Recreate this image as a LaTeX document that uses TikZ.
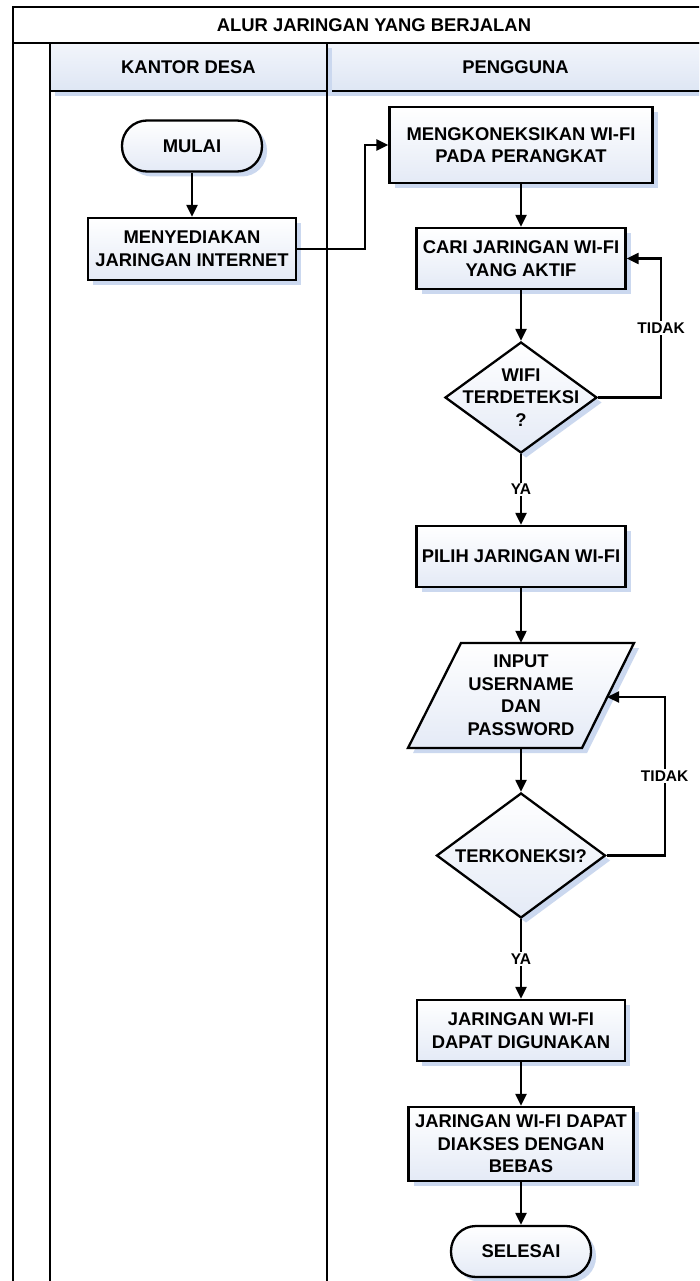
\documentclass[tikz,border=0pt]{standalone}
\usepackage{fontspec}
\setmainfont{Liberation Sans}
\usetikzlibrary{arrows.meta,shapes.geometric,shadows,calc}
\definecolor{shcol}{RGB}{203,216,239}
\definecolor{fillb}{RGB}{228,234,246}
\definecolor{hdrt}{RGB}{242,245,251}
\definecolor{hdrb}{RGB}{222,230,244}
\begin{document}
\begin{tikzpicture}[x=1pt,y=-1pt,
  font=\fontsize{18.4}{22.5}\selectfont\bfseries,
  base/.style={draw, line width=2.3pt, align=center, inner sep=0pt,
    top color=white, bottom color=fillb,
    general shadow={fill=shcol, shadow xshift=5pt, shadow yshift=-5pt}},
  proc/.style={base, rectangle},
  term/.style={base, rectangle, rounded corners=25pt, minimum width=140pt, minimum height=51pt},
  dec/.style={base, diamond},
  txt/.style={align=center, inner sep=0pt},
  flow/.style={line width=2.2pt, -{Triangle[length=12pt,width=11pt]}},
  lbl/.style={fill=white, font=\fontsize{15.5}{18}\selectfont\bfseries, inner sep=1.5pt},
  frame/.style={line width=2.6pt},
  hdr/.style={draw, line width=2.6pt, top color=hdrt, bottom color=hdrb, inner sep=0pt, outer sep=0pt,
    general shadow={fill=shcol, shadow xshift=5pt, shadow yshift=-5pt}},
]
\useasboundingbox (0,0) rectangle (699,1281);
\clip (0,0) rectangle (699,1281);
\fill[white] (0,0) rectangle (699,1281);

% frame and lanes
\draw[frame] (13,1300) -- (13,7) -- (730,7);
\draw[frame] (13,43) -- (730,43);
\node[txt] (title) at (374,25) {ALUR JARINGAN YANG BERJALAN};
\node[hdr, minimum width=377pt, minimum height=48pt] (h2) at (515.5,67) {};
\node[hdr, minimum width=277pt, minimum height=48pt] (h1) at (188.5,67) {};
\node[txt] (h1t) at (188.5,67) {KANTOR DESA};
\node[txt] (h2t) at (515.5,67) {PENGGUNA};
\draw[frame] (h1.south west) -- (h1.south west |- 0,1300);
\draw[frame] (h1.south east) -- (h1.south east |- 0,1300);

% nodes
\node[term] (mulai) at (192,146) {MULAI};
\node[proc, minimum width=208pt, minimum height=62pt] (sedia) at (192,249) {MENYEDIAKAN\\JARINGAN INTERNET};
\node[proc, minimum width=263pt, minimum height=76pt] (koneksi) at (521,145) {MENGKONEKSIKAN WI-FI\\PADA PERANGKAT};
\node[proc, minimum width=209pt, minimum height=61pt] (cari) at (521,258.5) {CARI JARINGAN WI-FI\\YANG AKTIF};
\node[dec, minimum width=152pt, minimum height=111pt] (wifi) at (521,397.5) {};
\node[txt] (wifit) at (521,397.5) {WIFI\\TERDETEKSI\\?};
\node[proc, minimum width=209pt, minimum height=61pt] (pilih) at (521,556.5) {PILIH JARINGAN WI-FI};
\path[base] (461,643) -- (634,643) -- (582,748) -- (408,748) -- cycle;
\node[txt, minimum width=226pt, minimum height=105pt] (input) at (521,695.5) {INPUT\\USERNAME\\DAN\\PASSWORD};
\coordinate (inpR) at (607,697);
\node[dec, minimum width=169pt, minimum height=125pt] (terk) at (521,855.5) {};
\node[txt] (terkt) at (521,856) {TERKONEKSI?};
\node[proc, minimum width=208pt, minimum height=61pt] (guna) at (521,1030.5) {JARINGAN WI-FI\\DAPAT DIGUNAKAN};
\node[proc, minimum width=225pt, minimum height=74pt] (bebas) at (521,1144) {JARINGAN WI-FI DAPAT\\DIAKSES DENGAN\\BEBAS};
\node[term] (selesai) at (521,1251.5) {SELESAI};

% connectors
\draw[flow] (mulai.south) -- (sedia.north);
\draw[flow] (sedia.east) -- ++(68,0) |- (koneksi.west);
\draw[flow] (koneksi.south) -- (cari.north);
\draw[flow] (cari.south) -- (wifi.north);
\draw[flow] (wifi.east) -- ++(63,0) |- (cari.east) node[lbl, pos=0.25] {TIDAK};
\draw[flow] (wifi.south) -- (pilih.north) node[lbl, midway] {YA};
\draw[flow] (pilih.south) -- (input.north);
\draw[flow] (input.south) -- (terk.north);
\draw[flow] (terk.east) -- ++(58,0) |- (inpR) node[lbl, pos=0.25] {TIDAK};
\draw[flow] (terk.south) -- (guna.north) node[lbl, midway] {YA};
\draw[flow] (guna.south) -- (bebas.north);
\draw[flow] (bebas.south) -- (selesai.north);
\end{tikzpicture}
\end{document}
